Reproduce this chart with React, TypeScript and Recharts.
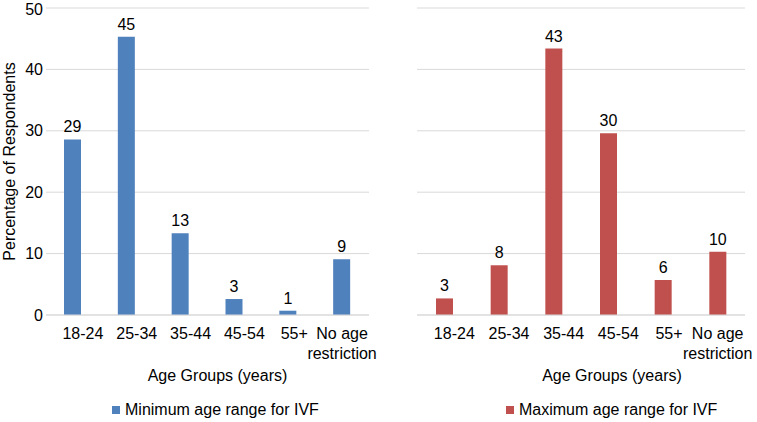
import React from 'react';
import { BarChart, Bar, XAxis, YAxis, CartesianGrid, LabelList, Legend, Label } from 'recharts';

const AGE_GROUPS = ['18-24', '25-34', '35-44', '45-54', '55+', 'No age restriction'];
const MIN_AGE = [28.6, 45.3, 13.3, 2.6, 0.7, 9.1];
const MAX_AGE = [2.7, 8.1, 43.4, 29.6, 5.7, 10.3];
const Y_TICKS = [0, 10, 20, 30, 40, 50];

const FONT = '"Liberation Sans", Arial, sans-serif';
const GRID = '#D9D9D9';

const minData = AGE_GROUPS.map((group, i) => ({ group, value: MIN_AGE[i] }));
const maxData = AGE_GROUPS.map((group, i) => ({ group, value: MAX_AGE[i] }));

// wraps "No age restriction" onto two lines like the original
const AgeTick = (props: any) => {
  const { x, y, payload } = props;
  const label: string = payload.value;
  const words = label.split(' ');
  const lines = words.length > 2 ? [words.slice(0, 2).join(' '), words.slice(2).join(' ')] : [label];
  const dx = lines.length === 1 ? label.length * 2 : 0;
  return (
    <text x={x + dx} y={y} textAnchor="middle" fontSize={16} fill="#000" fontFamily={FONT}>
      {lines.map((l, i) => (
        <tspan key={i} x={x + dx} dy={i === 0 ? 24 : 20}>{l}</tspan>
      ))}
    </text>
  );
};

const axisTitle = (text: string, shift: number) => (props: any) => {
  const vb = props.viewBox;
  return (
    <text
      x={vb.x + vb.width / 2 + shift}
      y={vb.y + 66}
      textAnchor="middle"
      fontSize={16}
      fill="#000"
      fontFamily={FONT}
    >
      {text}
    </text>
  );
};

const yTitle = (props: any) => {
  const vb = props.viewBox;
  const cy = vb.y + vb.height / 2;
  return (
    <text
      transform={`translate(15, ${cy}) rotate(-90)`}
      textAnchor="middle"
      fontSize={16}
      fill="#000"
      fontFamily={FONT}
    >
      Percentage of Respondents
    </text>
  );
};

const legendBox = (label: string, color: string) => () => (
  <div style={{ display: 'flex', alignItems: 'center', fontSize: 16, fontFamily: FONT, color: '#000', height: 19, lineHeight: '19px' }}>
    <span style={{ display: 'inline-block', width: 8, height: 8, background: color, marginRight: 5 }} />
    {label}
  </div>
);

const PLOT_H = 422;

const Panel = ({ data, color, legend, showY, width, margin, titleShift, legendLeft }: any) => (
  <BarChart width={width} height={PLOT_H} data={data} margin={margin}>
    <CartesianGrid vertical={false} stroke={GRID} />
    <XAxis
      dataKey="group"
      interval={0}
      tickLine={false}
      tickSize={0}
      tickMargin={0}
      axisLine={{ stroke: GRID }}
      height={85}
      tick={<AgeTick />}
    >
      <Label content={axisTitle('Age Groups (years)', titleShift)} />
    </XAxis>
    <YAxis
      hide={!showY}
      width={46}
      domain={[0, 50]}
      ticks={Y_TICKS}
      axisLine={false}
      tickLine={false}
      tickSize={0}
      tickMargin={3}
      tick={{ fontSize: 16, fill: '#000', fontFamily: FONT }}
    >
      {showY && <Label content={yTitle} />}
    </YAxis>
    <Legend
      verticalAlign="bottom"
      content={legendBox(legend, color)}
      wrapperStyle={{ left: legendLeft, width: 'auto', height: 19 }}
    />
    <Bar dataKey="value" fill={color} barSize={17} isAnimationActive={false}>
      <LabelList
        dataKey="value"
        position="top"
        offset={7}
        formatter={(v: any) => Math.round(Number(v))}
        style={{ fontSize: 16, fill: '#000', fontFamily: FONT }}
      />
    </Bar>
  </BarChart>
);

export default function App() {
  return (
    <div style={{ position: 'absolute', left: 0, top: 0, width: 757, height: 422, background: '#fff', display: 'flex' }}>
      <Panel
        data={minData}
        color="#4F81BD"
        legend="Minimum age range for IVF"
        showY
        width={380}
        margin={{ top: 8, right: 11, left: 0, bottom: 3 }}
        titleShift={10}
        legendLeft={112}
      />
      <Panel
        data={maxData}
        color="#C0504D"
        legend="Maximum age range for IVF"
        showY={false}
        width={377}
        margin={{ top: 8, right: 12, left: 37, bottom: 3 }}
        titleShift={31}
        legendLeft={126}
      />
    </div>
  );
}
